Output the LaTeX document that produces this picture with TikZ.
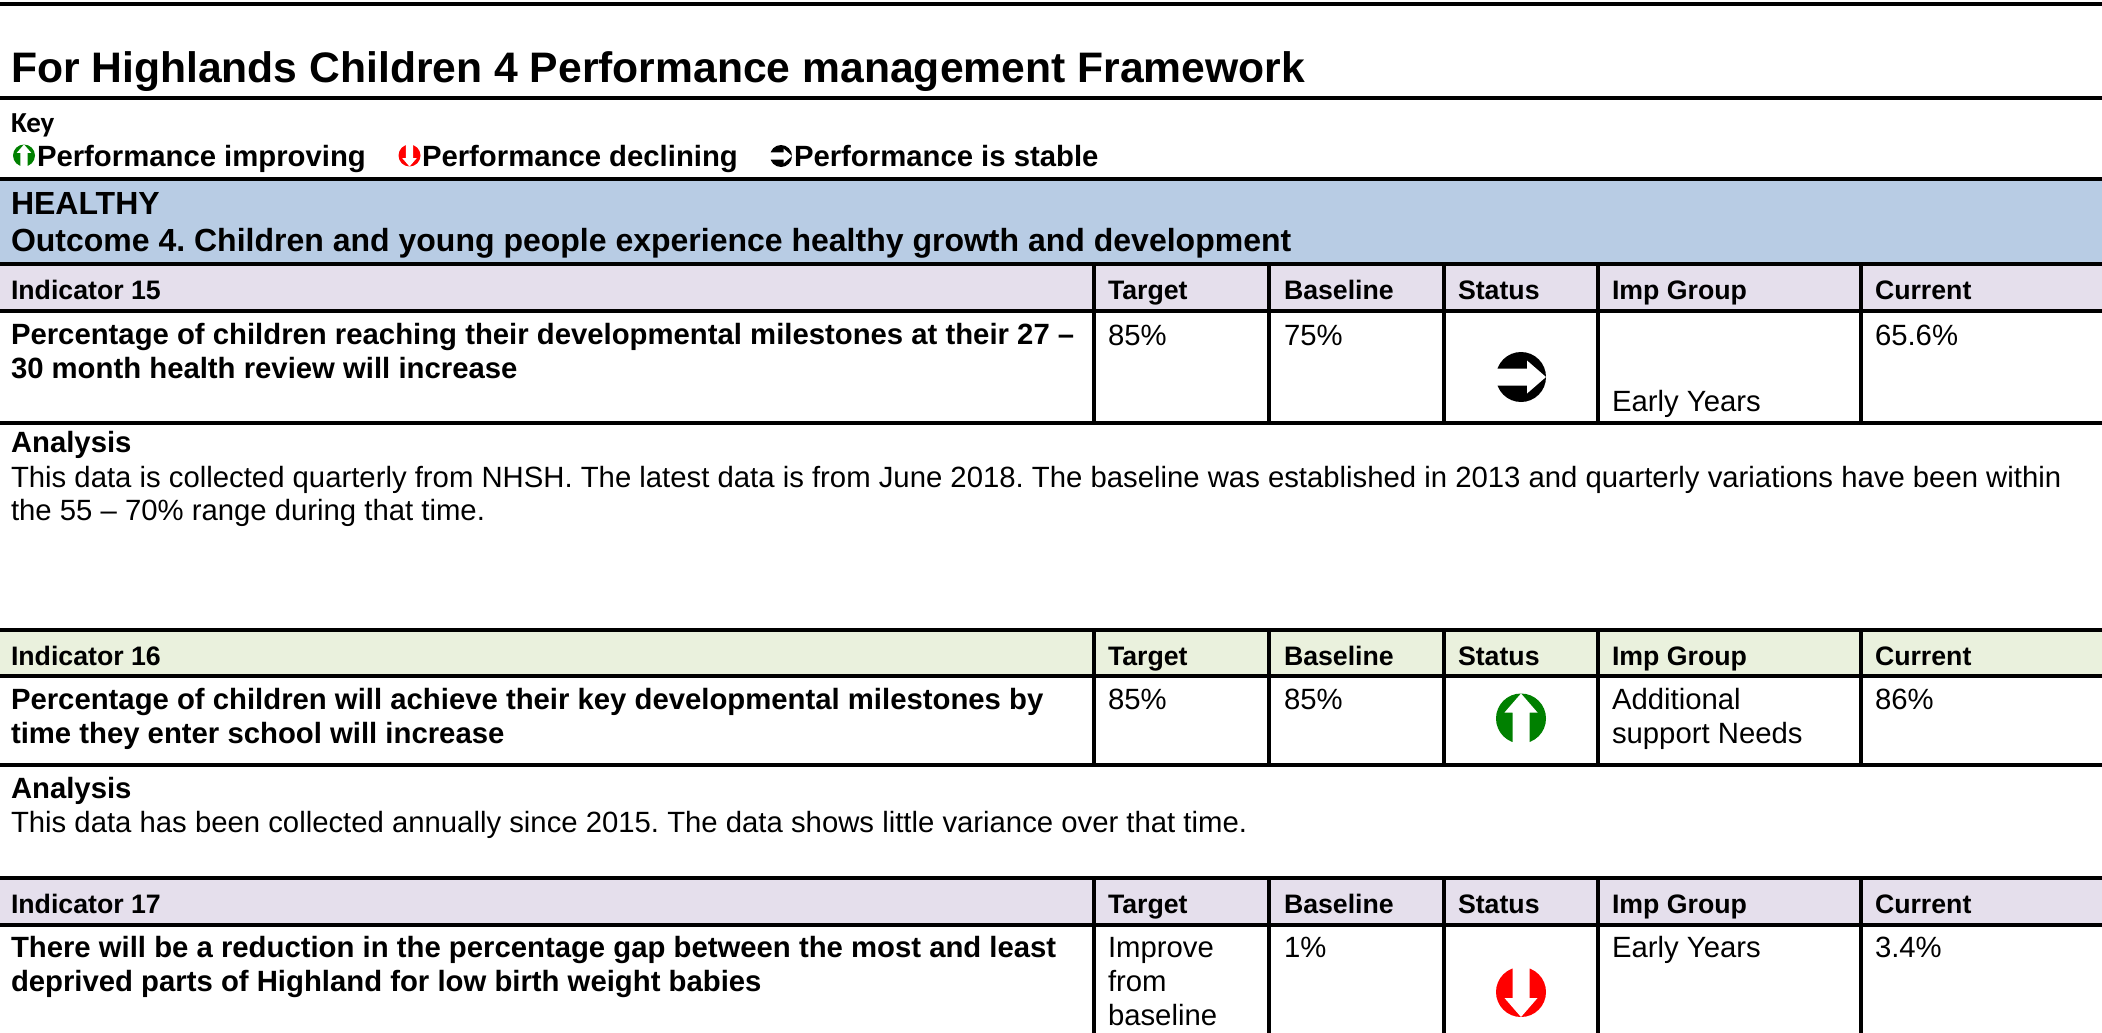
\documentclass[tikz,border=0pt]{standalone}
\usepackage{fontspec}
\setmainfont{Liberation Sans}
\newfontfamily\keyfont{Carlito}
\definecolor{hblue}{HTML}{B8CCE4}
\definecolor{hlav}{HTML}{E5DFEC}
\definecolor{hgreen}{HTML}{EAF1DD}
\definecolor{upgreen}{HTML}{008000}
\definecolor{downred}{HTML}{FF0000}
\newcommand{\bodyf}{\fontsize{29.3}{34}\selectfont}
\newcommand{\headf}{\fontsize{26.7}{32}\selectfont\bfseries}
\newcommand{\bandf}{\fontsize{32}{37}\selectfont\bfseries}
\newcommand{\arrowicon}[5]{% x, y, scale, colour, rotation
  \begin{scope}[shift={(#1,#2)},scale=#3,rotate=#5]
    \fill[#4] (0,0) circle[radius=25];
    \fill[white] (-8.5,27) -- (-8.5,-6) -- (-16.5,-6) -- (0,-25) -- (16.5,-6) -- (8.5,-6) -- (8.5,27) -- cycle;
  \end{scope}}
\newcommand{\headrow}[4]{% top of band, bottom of band, fill, label
  \fill[#3] (0,#1) rectangle (2102,#2);
  \node[txt,font=\headf] at (11,#2-12) {#4};
  \node[txt,font=\headf] at (1108,#2-12) {Target};
  \node[txt,font=\headf] at (1284,#2-12) {Baseline};
  \node[txt,font=\headf] at (1458,#2-12) {Status};
  \node[txt,font=\headf] at (1612,#2-12) {Imp Group};
  \node[txt,font=\headf] at (1875,#2-12) {Current};}
\newcommand{\vrules}[2]{%
  \foreach \vx in {1094,1269,1444,1598,1861} {\draw[vrule] (\vx,#1) -- (\vx,#2);}}
\tikzset{
  txt/.style={anchor=base west,inner sep=0pt,outer sep=0pt,text=black},
  hrule/.style={line width=4pt,black},
  vrule/.style={line width=3.6pt,black}
}
\begin{document}
\begin{tikzpicture}[x=1pt,y=-1pt]
\frenchspacing
\useasboundingbox (0,0) rectangle (2102,1033);
\fill[white] (0,0) rectangle (2102,1033);
% bands
\fill[hblue] (0,179) rectangle (2102,264);
\headrow{264}{311}{hlav}{Indicator 15}
\headrow{630}{677}{hgreen}{Indicator 16}
\headrow{878}{925}{hlav}{Indicator 17}
% title and key
\node[txt,font=\fontsize{42.65}{46}\selectfont\bfseries] (title) at (11,82) {For Highlands Children 4 Performance management Framework};
\node[txt,font=\keyfont\fontsize{29}{30}\selectfont\bfseries] (key) at (11,132) {Key};
\node[txt,font=\fontsize{29.3}{34}\selectfont\bfseries] (k1) at (37,166) {Performance improving};
\node[txt,font=\fontsize{29.3}{34}\selectfont\bfseries] (k2) at (422,166) {Performance declining};
\node[txt,font=\fontsize{29.3}{34}\selectfont\bfseries] (k3) at (794,166) {Performance is stable};
\arrowicon{24}{155.5}{0.44}{upgreen}{0}
\arrowicon{409.5}{155.5}{0.44}{downred}{180}
\arrowicon{781}{156}{0.44}{black}{-90}
% healthy band
\node[txt,font=\bandf] (healthy) at (11,214) {HEALTHY};
\node[txt,font=\bandf] (outcome) at (11,251) {Outcome 4. Children and young people experience healthy growth and development};
% indicator 15
\node[txt,font=\bfseries\bodyf] (i15a) at (11,344) {Percentage of children reaching their developmental milestones at their 27 –};
\node[txt,font=\bfseries\bodyf] (i15b) at (11,378) {30 month health review will increase};
\node[txt,font=\bodyf] (t15) at (1108,345) {85\%};
\node[txt,font=\bodyf] (b15) at (1284,345) {75\%};
\node[txt,font=\bodyf] (g15) at (1612,411) {Early Years};
\node[txt,font=\bodyf] (c15) at (1875,345) {65.6\%};
\arrowicon{1521}{377}{1}{black}{-90}
\node[txt,font=\bfseries\bodyf] (an15) at (11,452) {Analysis};
\node[txt,font=\bodyf] (an15a) at (11,487) {This data is collected quarterly from NHSH. The latest data is from June 2018. The baseline was established in 2013 and quarterly variations have been within};
\node[txt,font=\bodyf] (an15b) at (11,520) {the 55 – 70\% range during that time.};
% indicator 16
\node[txt,font=\bfseries\bodyf] (i16a) at (11,709) {Percentage of children will achieve their key developmental milestones by};
\node[txt,font=\bfseries\bodyf] (i16b) at (11,743) {time they enter school will increase};
\node[txt,font=\bodyf] (t16) at (1108,709) {85\%};
\node[txt,font=\bodyf] (b16) at (1284,709) {85\%};
\node[txt,font=\bodyf] (g16a) at (1612,709) {Additional};
\node[txt,font=\bodyf] (g16b) at (1612,743) {support Needs};
\node[txt,font=\bodyf] (c16) at (1875,709) {86\%};
\arrowicon{1521}{718.5}{1}{upgreen}{0}
\node[txt,font=\bfseries\bodyf] (an16) at (11,798) {Analysis};
\node[txt,font=\bodyf] (an16a) at (11,832) {This data has been collected annually since 2015. The data shows little variance over that time.};
% indicator 17
\node[txt,font=\bfseries\bodyf] (i17a) at (11,957) {There will be a reduction in the percentage gap between the most and least};
\node[txt,font=\bfseries\bodyf] (i17b) at (11,991) {deprived parts of Highland for low birth weight babies};
\node[txt,font=\bodyf] (t17a) at (1108,957) {Improve};
\node[txt,font=\bodyf] (t17b) at (1108,991) {from};
\node[txt,font=\bodyf] (t17c) at (1108,1025) {baseline};
\node[txt,font=\bodyf] (b17) at (1284,957) {1\%};
\node[txt,font=\bodyf] (g17) at (1612,957) {Early Years};
\node[txt,font=\bodyf] (c17) at (1875,957) {3.4\%};
\arrowicon{1521}{992}{1}{downred}{180}
% rules
\vrules{264}{425}
\vrules{630}{767}
\vrules{878}{1033}
\foreach \ry in {4.5,98,179,264,311,423,630,676,765,878,925} {\draw[hrule] (0,\ry) -- (2102,\ry);}
\end{tikzpicture}
\end{document}
